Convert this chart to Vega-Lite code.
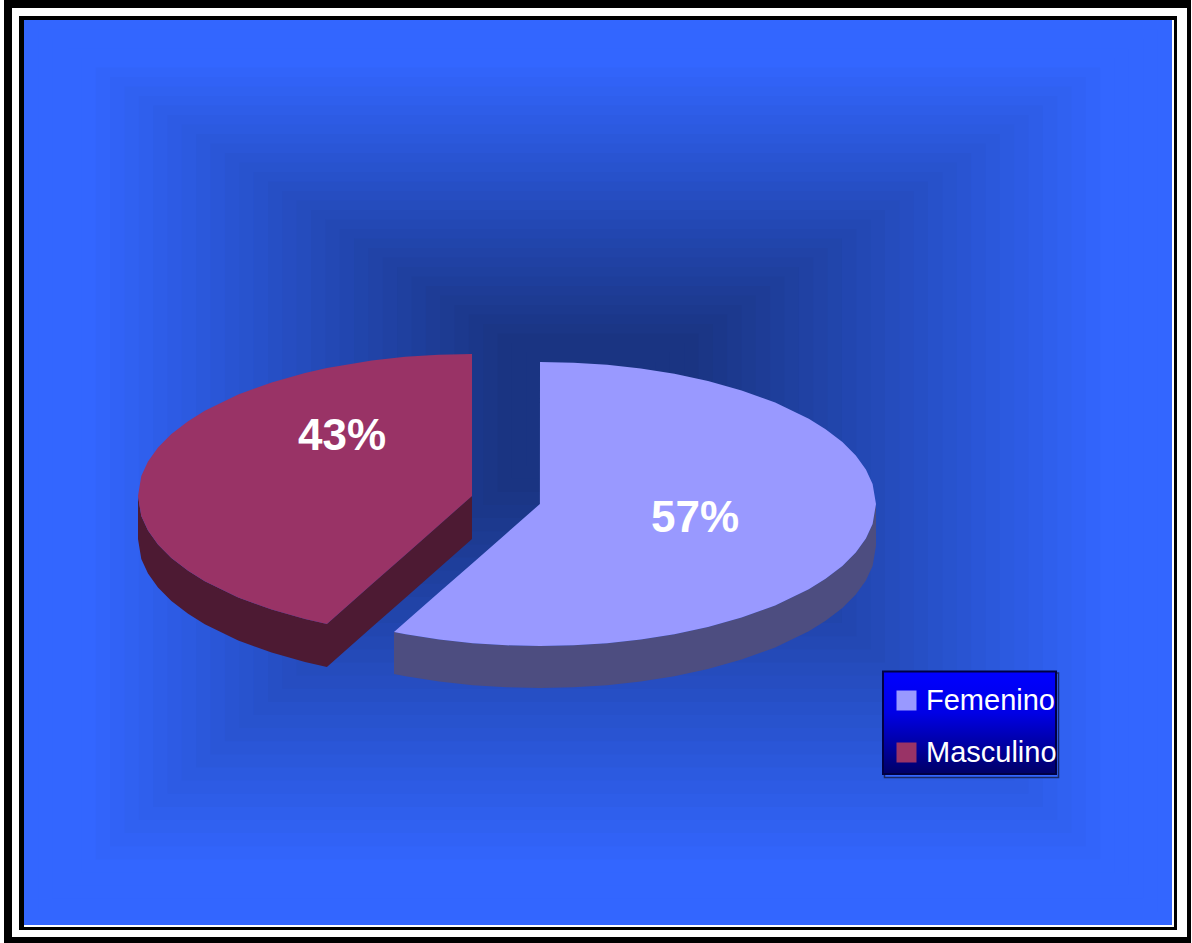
{
"$schema":"https://vega.github.io/schema/vega-lite/v6.json",
"width":1192,"height":943,"padding":0,"autosize":{"type":"none"},
"background":"#ffffff",
"config":{"view":{"stroke":null}},
"datasets":{
"marco":[
{"pieza":"a","x":4,"x2":1191,"y":0,"y2":943},
{"pieza":"b","x":12,"x2":1187,"y":8,"y2":937},
{"pieza":"c","x":19,"x2":1177,"y":16,"y2":930},
{"pieza":"d","x":24,"x2":1174,"y":20,"y2":927}
],
"fondo":[
{"nivel":0,"x":24,"x2":1172,"y":20,"y2":925},{"nivel":1,"x":38.4,"x2":1157.6,"y":29.5,"y2":911.9},
{"nivel":2,"x":52.7,"x2":1143.3,"y":39,"y2":898.8},{"nivel":3,"x":67.1,"x2":1128.9,"y":48.5,"y2":885.6},
{"nivel":4,"x":81.4,"x2":1114.6,"y":58,"y2":872.5},{"nivel":5,"x":95.8,"x2":1100.2,"y":67.5,"y2":859.4},
{"nivel":6,"x":110.1,"x2":1085.9,"y":77,"y2":846.3},{"nivel":7,"x":124.5,"x2":1071.5,"y":86.5,"y2":833.1},
{"nivel":8,"x":138.8,"x2":1057.2,"y":96,"y2":820},{"nivel":9,"x":153.2,"x2":1042.8,"y":105.5,"y2":806.9},
{"nivel":10,"x":167.5,"x2":1028.5,"y":115,"y2":793.8},{"nivel":11,"x":181.9,"x2":1014.1,"y":124.5,"y2":780.6},
{"nivel":12,"x":196.2,"x2":999.8,"y":134,"y2":767.5},{"nivel":13,"x":210.6,"x2":985.4,"y":143.5,"y2":754.4},
{"nivel":14,"x":224.9,"x2":971.1,"y":153,"y2":741.3},{"nivel":15,"x":239.3,"x2":956.7,"y":162.5,"y2":728.1},
{"nivel":16,"x":253.6,"x2":942.4,"y":172,"y2":715},{"nivel":17,"x":268,"x2":928,"y":181.5,"y2":701.9},
{"nivel":18,"x":282.3,"x2":913.7,"y":191,"y2":688.8},{"nivel":19,"x":296.7,"x2":899.3,"y":200.5,"y2":675.6},
{"nivel":20,"x":311,"x2":885,"y":210,"y2":662.5},{"nivel":21,"x":325.4,"x2":870.6,"y":219.5,"y2":649.4},
{"nivel":22,"x":339.7,"x2":856.3,"y":229,"y2":636.3},{"nivel":23,"x":354.1,"x2":841.9,"y":238.5,"y2":623.1},
{"nivel":24,"x":368.4,"x2":827.6,"y":248,"y2":610},{"nivel":25,"x":382.8,"x2":813.2,"y":257.5,"y2":596.9},
{"nivel":26,"x":397.1,"x2":798.9,"y":267,"y2":583.8},{"nivel":27,"x":411.5,"x2":784.5,"y":276.5,"y2":570.6},
{"nivel":28,"x":425.8,"x2":770.2,"y":286,"y2":557.5},{"nivel":29,"x":440.2,"x2":755.8,"y":295.5,"y2":544.4},
{"nivel":30,"x":454.5,"x2":741.5,"y":305,"y2":531.3},{"nivel":31,"x":468.9,"x2":727.1,"y":314.5,"y2":518.1},
{"nivel":32,"x":483.2,"x2":712.8,"y":324,"y2":505},{"nivel":33,"x":497.6,"x2":698.4,"y":333.5,"y2":491.9},
{"nivel":34,"x":511.9,"x2":684.1,"y":343,"y2":478.8},{"nivel":35,"x":526.3,"x2":669.7,"y":352.5,"y2":465.6},
{"nivel":36,"x":540.6,"x2":655.4,"y":362,"y2":452.5},{"nivel":37,"x":555,"x2":641,"y":371.5,"y2":439.4},
{"nivel":38,"x":569.3,"x2":626.7,"y":381,"y2":426.3},{"nivel":39,"x":583.7,"x2":612.3,"y":390.5,"y2":413.1}
],
"paredes":[
{"Sexo":"Femenino","x":394,"y":631.9,"y2":673.9},{"Sexo":"Femenino","x":405.6,"y":634.2,"y2":676.2},
{"Sexo":"Femenino","x":439.2,"y":639.5,"y2":681.5},{"Sexo":"Femenino","x":472.8,"y":643.2,"y2":685.2},
{"Sexo":"Femenino","x":506.4,"y":645.3,"y2":687.3},{"Sexo":"Femenino","x":540,"y":646,"y2":688},
{"Sexo":"Femenino","x":573.6,"y":645.3,"y2":687.3},{"Sexo":"Femenino","x":607.2,"y":643.2,"y2":685.2},
{"Sexo":"Femenino","x":640.8,"y":639.5,"y2":681.5},{"Sexo":"Femenino","x":674.4,"y":634.2,"y2":676.2},
{"Sexo":"Femenino","x":708,"y":627,"y2":669},{"Sexo":"Femenino","x":741.6,"y":617.6,"y2":659.6},
{"Sexo":"Femenino","x":775.2,"y":605.4,"y2":647.4},{"Sexo":"Femenino","x":808.8,"y":589.2,"y2":631.2},
{"Sexo":"Femenino","x":825.6,"y":578.8,"y2":620.8},{"Sexo":"Femenino","x":842.4,"y":566.1,"y2":608.1},
{"Sexo":"Femenino","x":855.8,"y":552.4,"y2":594.4},{"Sexo":"Femenino","x":865.9,"y":538.5,"y2":580.5},
{"Sexo":"Femenino","x":872.6,"y":524,"y2":566},{"Sexo":"Femenino","x":876,"y":504,"y2":546},
{"Sexo":"Masculino","x":138,"y":496,"y2":539},{"Sexo":"Masculino","x":141.3,"y":516,"y2":559},
{"Sexo":"Masculino","x":148,"y":530.5,"y2":573.5},{"Sexo":"Masculino","x":158,"y":544.4,"y2":587.4},
{"Sexo":"Masculino","x":171.4,"y":557.9,"y2":600.9},{"Sexo":"Masculino","x":188.1,"y":570.8,"y2":613.8},
{"Sexo":"Masculino","x":204.8,"y":581.2,"y2":624.2},{"Sexo":"Masculino","x":238.2,"y":597.4,"y2":640.4},
{"Sexo":"Masculino","x":271.6,"y":609.6,"y2":652.6},{"Sexo":"Masculino","x":305,"y":619,"y2":662},
{"Sexo":"Masculino","x":326.9,"y":623.9,"y2":666.9},{"Sexo":"Masculino","x":371.8,"y":584.3,"y2":627.3},
{"Sexo":"Masculino","x":405.2,"y":554.9,"y2":597.9},{"Sexo":"Masculino","x":438.6,"y":525.4,"y2":568.4},
{"Sexo":"Masculino","x":472,"y":496,"y2":539}
],
"sectores":[
{"Sexo":"Femenino","x":394,"y":631.9,"y2":631.9},{"Sexo":"Femenino","x":405.6,"y":621.7,"y2":634.2},
{"Sexo":"Femenino","x":439.2,"y":592.3,"y2":639.5},{"Sexo":"Femenino","x":472.8,"y":562.9,"y2":643.2},
{"Sexo":"Femenino","x":506.4,"y":533.4,"y2":645.3},{"Sexo":"Femenino","x":539.9,"y":504,"y2":646},
{"Sexo":"Femenino","x":540,"y":362,"y2":646},{"Sexo":"Femenino","x":573.6,"y":362.7,"y2":645.3},
{"Sexo":"Femenino","x":607.2,"y":364.8,"y2":643.2},{"Sexo":"Femenino","x":640.8,"y":368.5,"y2":639.5},
{"Sexo":"Femenino","x":674.4,"y":373.8,"y2":634.2},{"Sexo":"Femenino","x":708,"y":381,"y2":627},
{"Sexo":"Femenino","x":741.6,"y":390.4,"y2":617.6},{"Sexo":"Femenino","x":775.2,"y":402.6,"y2":605.4},
{"Sexo":"Femenino","x":808.8,"y":418.8,"y2":589.2},{"Sexo":"Femenino","x":825.6,"y":429.2,"y2":578.8},
{"Sexo":"Femenino","x":842.4,"y":442.1,"y2":566.1},{"Sexo":"Femenino","x":855.8,"y":455.6,"y2":552.4},
{"Sexo":"Femenino","x":865.9,"y":469.5,"y2":538.5},{"Sexo":"Femenino","x":872.6,"y":484,"y2":524},
{"Sexo":"Femenino","x":876,"y":504,"y2":504},
{"Sexo":"Masculino","x":138,"y":496,"y2":496},{"Sexo":"Masculino","x":141.3,"y":476,"y2":516},
{"Sexo":"Masculino","x":148,"y":461.5,"y2":530.5},{"Sexo":"Masculino","x":158,"y":447.6,"y2":544.4},
{"Sexo":"Masculino","x":171.4,"y":434.1,"y2":557.9},{"Sexo":"Masculino","x":188.1,"y":421.2,"y2":570.8},
{"Sexo":"Masculino","x":204.8,"y":410.8,"y2":581.2},{"Sexo":"Masculino","x":238.2,"y":394.6,"y2":597.4},
{"Sexo":"Masculino","x":271.6,"y":382.4,"y2":609.6},{"Sexo":"Masculino","x":305,"y":373,"y2":619},
{"Sexo":"Masculino","x":326.9,"y":368.1,"y2":623.9},{"Sexo":"Masculino","x":371.8,"y":360.5,"y2":584.3},
{"Sexo":"Masculino","x":405.2,"y":356.8,"y2":554.9},{"Sexo":"Masculino","x":438.6,"y":354.7,"y2":525.4},
{"Sexo":"Masculino","x":472,"y":354,"y2":496}
],
"etiquetas":[
{"Sexo":"Femenino","valor":0.57,"x":695,"y":519},
{"Sexo":"Masculino","valor":0.43,"x":342,"y":437}
],
"sombra_leyenda":[{"x":884.5,"x2":1058.5,"y":673,"y2":777.5}],
"caja_leyenda":[{"x":883,"x2":1056,"y":671.5,"y2":774}]
},
"encoding":{
"x":{"field":"x","type":"quantitative","scale":{"domain":[0,1192],"range":[0,1192],"nice":false,"zero":false},"axis":null},
"y":{"field":"y","type":"quantitative","scale":{"domain":[0,943],"range":[0,943],"nice":false,"zero":false},"axis":null}
},
"layer":[
{"data":{"name":"marco"},"mark":{"type":"rect"},
 "encoding":{"x2":{"field":"x2"},"y2":{"field":"y2"},
 "color":{"field":"pieza","type":"nominal","scale":{"domain":["a","b","c","d"],"range":["#000000","#ffffff","#000000","#ffffff"]},"legend":null}}},
{"data":{"name":"fondo"},"mark":{"type":"rect"},
 "encoding":{"x2":{"field":"x2"},"y2":{"field":"y2"},
 "color":{"field":"nivel","type":"quantitative","scale":{"domain":[4,33],"range":["#3366ff","#1a3482"],"clamp":true},"legend":null},
 "order":{"field":"nivel"}}},
{"data":{"name":"paredes"},"mark":{"type":"area"},
 "encoding":{"y2":{"field":"y2"},
 "color":{"field":"Sexo","type":"nominal","scale":{"domain":["Femenino","Masculino"],"range":["#4d4d80","#4d1a33"]},"legend":null}}},
{"data":{"name":"sombra_leyenda"},"mark":{"type":"rect","fill":"#3366ff","stroke":"#1a2a66","strokeWidth":1.5},
 "encoding":{"x2":{"field":"x2"},"y2":{"field":"y2"}}},
{"data":{"name":"caja_leyenda"},"mark":{"type":"rect","stroke":"#000044","strokeWidth":2,
  "fill":{"gradient":"linear","x1":0,"y1":0,"x2":0,"y2":1,"stops":[{"offset":0,"color":"#0000ff"},{"offset":0.4,"color":"#0000e6"},{"offset":1,"color":"#000066"}]}},
 "encoding":{"x2":{"field":"x2"},"y2":{"field":"y2"}}},
{"data":{"name":"sectores"},"mark":{"type":"area"},
 "encoding":{"y2":{"field":"y2"},
 "color":{"field":"Sexo","type":"nominal","scale":{"domain":["Femenino","Masculino"],"range":["#9999ff","#993366"]},
  "legend":{"title":null,"orient":"none","legendX":892,"legendY":686,"padding":0,"symbolType":"square","symbolSize":400,"symbolStrokeWidth":0,"labelFont":"Liberation Sans","labelFontSize":29,"labelColor":"#ffffff","labelOffset":5,"rowPadding":22}}}},
{"data":{"name":"etiquetas"},"mark":{"type":"text","font":"Liberation Sans","fontWeight":"bold","fontSize":44,"color":"#ffffff","align":"center","baseline":"middle"},
 "encoding":{"text":{"field":"valor","type":"quantitative","format":".0%"}}}
],
"resolve":{"scale":{"color":"independent"}}
}
